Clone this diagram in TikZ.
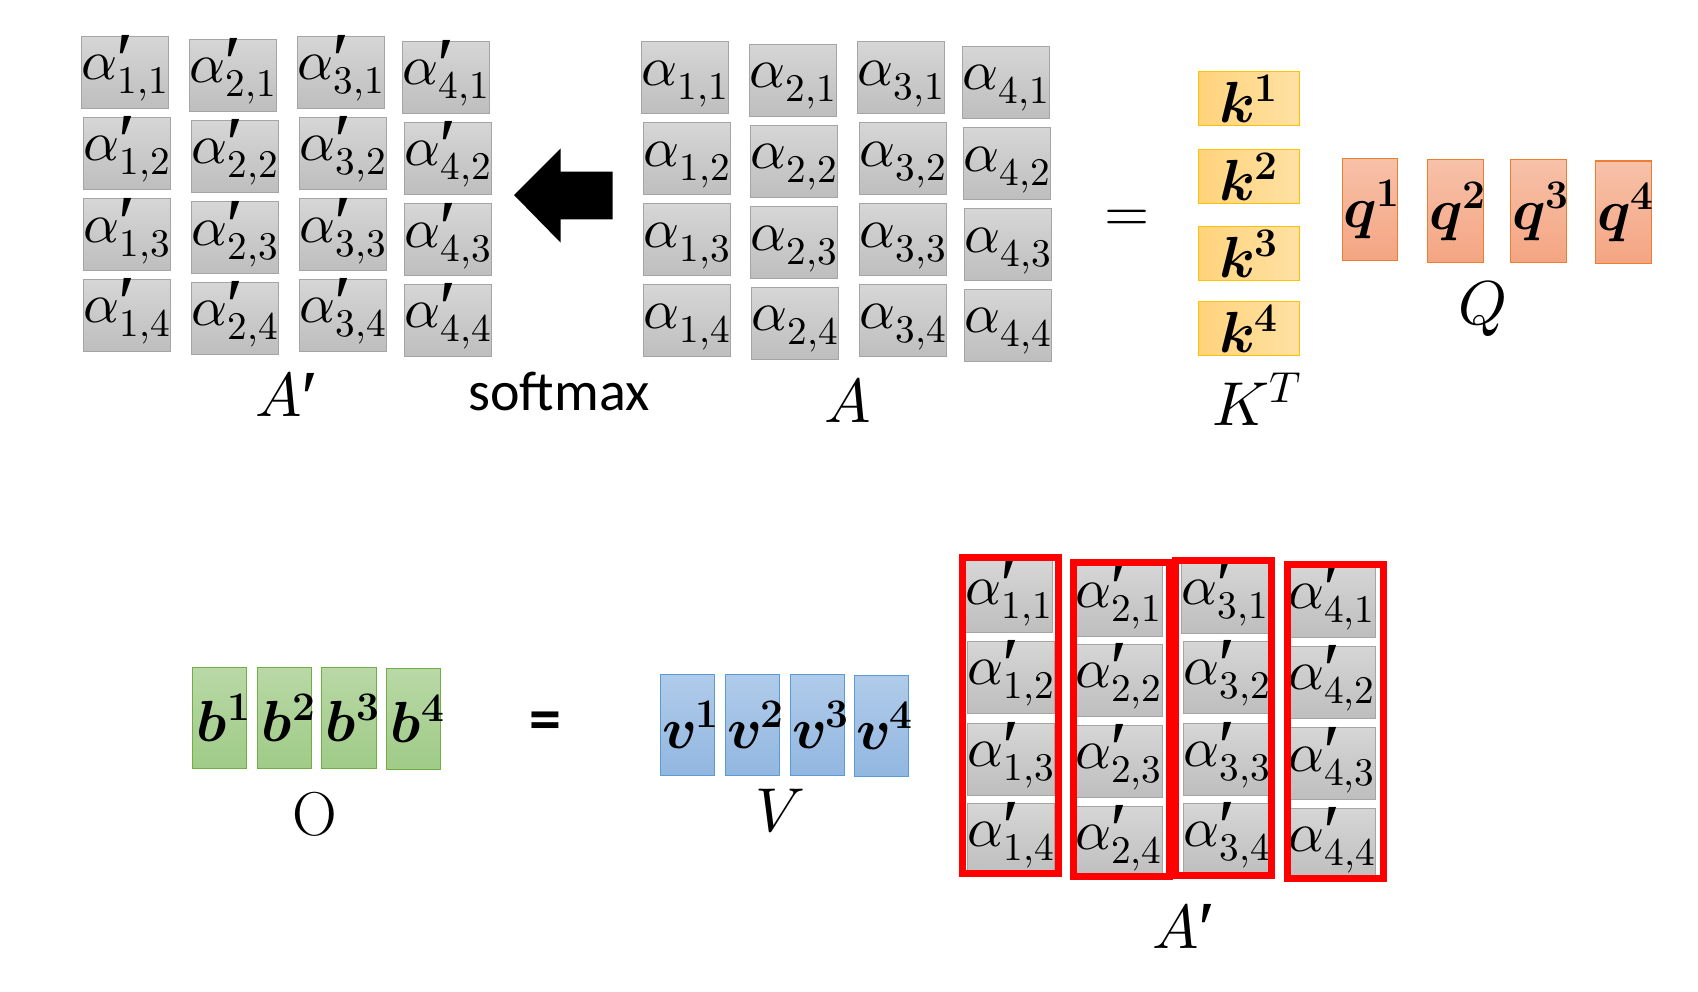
\documentclass[tikz,border=0pt]{standalone}
\usepackage{fontspec}
\usepackage{unicode-math}
\newfontfamily\calibrifont{Carlito}
\newfontfamily\primefont{Liberation Serif}
\newcommand{\pr}{\rlap{\smash{\raisebox{-0.12em}{\kern-1pt\primefont\fontsize{78}{80}\selectfont\char"2032}}}}
\newcommand{\celltext}[1]{\makebox[0pt]{\raisebox{-6pt}[\height][\depth]{#1}}}
\definecolor{celltop}{HTML}{D6D6D6}
\definecolor{cellbot}{HTML}{BEBEBE}
\definecolor{cellborder}{HTML}{A5A5A5}
\definecolor{kleft}{HTML}{FFD37C}
\definecolor{kright}{HTML}{FFE1A4}
\definecolor{kborder}{HTML}{FFC000}
\definecolor{qtop}{HTML}{F7C1A9}
\definecolor{qbot}{HTML}{F4A582}
\definecolor{qborder}{HTML}{ED7D31}
\definecolor{btop}{HTML}{B9D8A6}
\definecolor{bbot}{HTML}{9FCB87}
\definecolor{bborder}{HTML}{70AD47}
\definecolor{vtop}{HTML}{B0CBEA}
\definecolor{vbot}{HTML}{92B7E0}
\definecolor{vborder}{HTML}{5B9BD5}
\begin{document}
\begin{tikzpicture}[x=1pt,y=-1pt,
  cell/.style={draw=cellborder, line width=1pt, top color=celltop, bottom color=cellbot,
    minimum width=87pt, minimum height=72pt, inner sep=0pt, font=\fontsize{56}{60}\selectfont},
  kbox/.style={draw=kborder, line width=1.3pt, left color=kleft, right color=kright,
    minimum width=101.4pt, minimum height=54.4pt, inner sep=0pt, font=\fontsize{58}{62}\selectfont},
  qbox/.style={draw=qborder, line width=1.3pt, top color=qtop, bottom color=qbot,
    minimum width=55.4pt, minimum height=102.4pt, inner sep=0pt, font=\fontsize{58}{62}\selectfont},
  bbox/.style={draw=bborder, line width=1.3pt, top color=btop, bottom color=bbot,
    minimum width=54.4pt, minimum height=101pt, inner sep=0pt, font=\fontsize{58}{62}\selectfont},
  vbox/.style={draw=vborder, line width=1.3pt, top color=vtop, bottom color=vbot,
    minimum width=54.4pt, minimum height=101pt, inner sep=0pt, font=\fontsize{58}{62}\selectfont},
  redbox/.style={draw=red, line width=7pt, minimum width=96pt, inner sep=0pt},
  lab/.style={anchor=base, inner sep=0pt, font=\fontsize{62}{66}\selectfont}
]
\useasboundingbox (0,0) rectangle (1698,992);

% top A'
\foreach \c/\r/\x/\y in {1/1/125/72.3, 2/1/233/75.3, 3/1/341/72.3, 4/1/446/77.3,
  1/2/127/153.3, 2/2/235/156.3, 3/2/343/153.3, 4/2/448/158.3,
  1/3/127/234.8, 2/3/235/237.8, 3/3/343/234.8, 4/3/448/239.8,
  1/4/127/315.3, 2/4/235/318.2, 3/4/343/315.3, 4/4/448/320.3}
  \node[cell] (ap-\c-\r) at (\x,\y) {\celltext{$\alpha\pr_{\c,\r}$}};

% top A
\foreach \c/\r/\x/\y in {1/1/685/77.8, 2/1/793/80.3, 3/1/901/77.8, 4/1/1006/82.3,
  1/2/687/158.8, 2/2/794/161.3, 3/2/903/158.8, 4/2/1007/163.8,
  1/3/687/240, 2/3/794/242.8, 3/3/903/240, 4/3/1008/244.8,
  1/4/687/320.8, 2/4/795/323.3, 3/4/903/320.8, 4/4/1008/325.3}
  \node[cell] (a-\c-\r) at (\x,\y) {\celltext{$\alpha_{\c,\r}$}};

% softmax arrow
\fill[black] (514,195) -- (560.7,148.3) -- (560.7,171.7) -- (612.7,171.7)
  -- (612.7,219.3) -- (560.7,219.3) -- (560.7,242.7) -- cycle;

% K^T
\foreach \i/\y in {1/98.5, 2/176.5, 3/253.5, 4/328.5}
  \node[kbox] (k-\i) at (1249,\y) {\makebox[0pt]{$\symbfit{k}^{\mathbf{\i}}$}};

% Q
\foreach \i/\x/\y in {1/1370/209.5, 2/1455.5/211, 3/1538.5/211, 4/1623.5/212.3}
  \node[qbox] (q-\i) at (\x,\y) {\makebox[0pt]{\hspace{4pt}$\symbfit{q}^{\mathbf{\i}}$}};

% O
\foreach \i/\x/\y in {1/219.5/717.8, 2/284.5/717.8, 3/349/717.8, 4/413.5/718.8}
  \node[bbox] (b-\i) at (\x,\y) {\makebox[0pt]{\hspace{8pt}$\symbfit{b}^{\mathbf{\i}}$}};

% V
\foreach \i/\x/\y in {1/687.5/724.8, 2/752.5/724.8, 3/817.5/724.8, 4/881.5/726.3}
  \node[vbox] (v-\i) at (\x,\y) {\makebox[0pt]{\hspace{6pt}$\symbfit{v}^{\mathbf{\i}}$}};

% bottom A'
\foreach \c/\r/\x/\y in {1/1/1009/596.8, 1/2/1011/677.3, 1/3/1011/759, 1/4/1011/839,
  2/1/1118.5/600, 2/2/1118.5/680.3, 2/3/1118.5/761, 2/4/1118.5/842,
  3/1/1225/597, 3/2/1227/677, 3/3/1227/759, 3/4/1227/839,
  4/1/1331.5/601, 4/2/1331.5/682.3, 4/3/1331.5/763.8, 4/4/1332/844}
  \node[cell] (c-\c-\r) at (\x,\y) {\celltext{$\alpha\pr_{\c,\r}$}};

% red column frames
\node[redbox, minimum height=315.3pt] (r-1) at (1010,715.4) {};
\node[redbox, minimum height=314pt] (r-2) at (1121,719) {};
\node[redbox, minimum height=315pt] (r-3) at (1223,717.5) {};
\node[redbox, minimum height=314pt] (r-4) at (1335,721) {};

% labels
\node[lab] (lApTop) at (288,416.7) {$A\pr\hspace{18pt}$};
\node[anchor=base, inner sep=0pt, font=\calibrifont\fontsize{56}{60}\selectfont] (lsoft) at (559,410) {softmax};
\node[lab] (lA) at (848,422.3) {$A$};
\node[inner sep=0pt, font=\fontsize{58}{60}\selectfont] (eq1) at (1126.7,220.7) {$=$};
\node[lab] (lK) at (1257,425) {$K^{T}$};
\node[lab] (lQ) at (1483,325) {$Q$};
\node[lab] (lO) at (315,835) {O};
\node[inner sep=0pt, font=\calibrifont\bfseries\fontsize{64}{70}\selectfont] (eq2) at (545.5,726) {=};
\node[lab] (lV) at (780,831.7) {$V$};
\node[lab] (lApBot) at (1185,948) {$A\pr\hspace{18pt}$};
\end{tikzpicture}
\end{document}
